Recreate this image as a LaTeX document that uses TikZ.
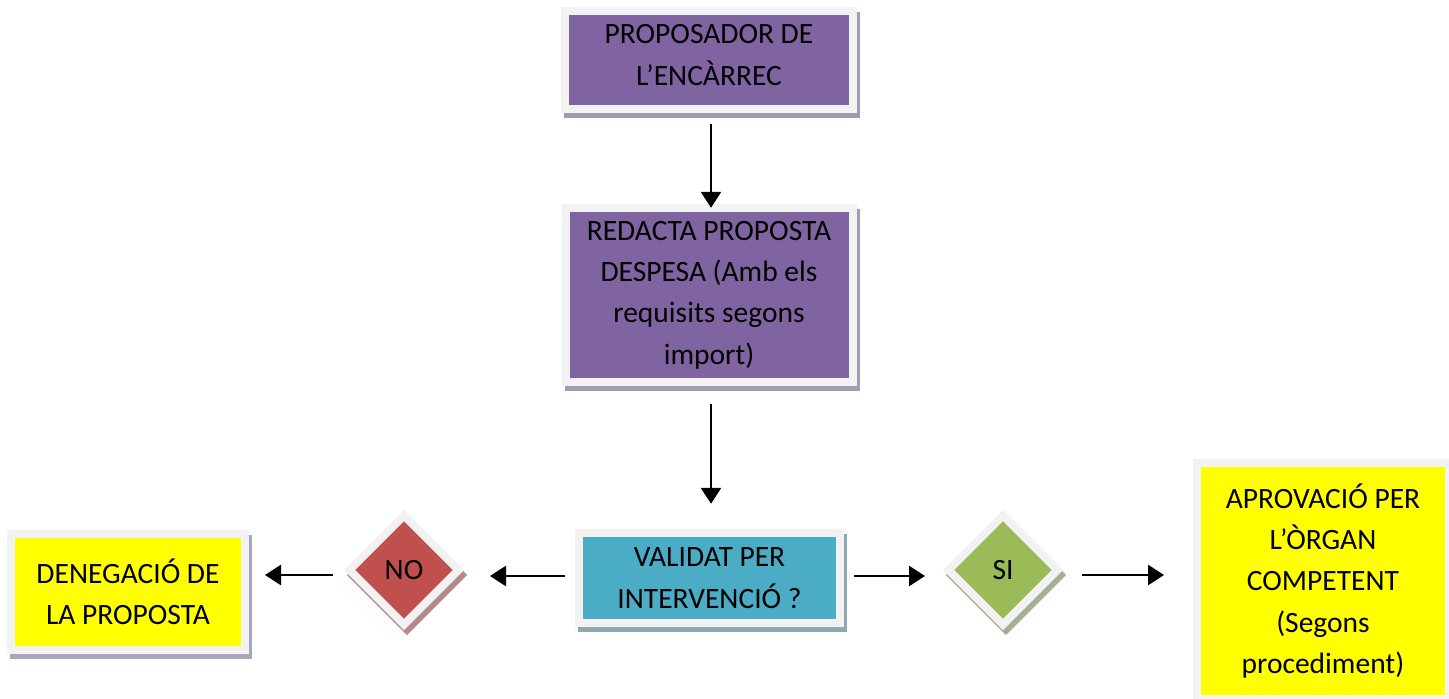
\documentclass[tikz,border=0pt]{standalone}
\usepackage{fontspec}
\setmainfont{Carlito}
\usetikzlibrary{arrows.meta,shapes.geometric}
\definecolor{bordc}{HTML}{F2F2F2}
\definecolor{purp}{HTML}{8064A2}
\definecolor{tealc}{HTML}{4BACC6}
\definecolor{redc}{HTML}{C0504D}
\definecolor{greenc}{HTML}{9BBB59}
\definecolor{yellc}{HTML}{FFFF00}
\definecolor{shpurp}{HTML}{A39BB0}
\definecolor{shteal}{HTML}{8EA9B3}
\definecolor{shyell}{HTML}{A8A6B8}
\definecolor{shred}{HTML}{B58A8A}
\definecolor{shgreen}{HTML}{A5AE95}
\tikzset{
  shadowed/.style={preaction={draw=#1, fill=#1, line width=8pt,
      transform canvas={xshift=3pt,yshift=-5pt}}},
  txt/.style={align=center, text=black, font=\fontsize{29.5}{41.3}\selectfont},
  box/.style={rectangle, draw=bordc, line width=8pt, inner sep=0pt, outer sep=0pt, txt},
  decision/.style={diamond, aspect=1, draw=bordc, line width=8pt, inner sep=0pt,
      outer sep=0pt, minimum width=109pt, minimum height=109pt, txt},
  arr/.style={line width=2.8pt, -{Triangle[width=20pt,length=16pt]}}
}
\begin{document}
\begin{tikzpicture}[x=1pt,y=-1pt]
\useasboundingbox (0,0) rectangle (1449,699);
\clip (0,0) rectangle (1449,699);
\node[box, shadowed=shpurp, fill=purp, minimum width=288pt, minimum height=98pt,
  label={[txt, yshift=5pt]center:PROPOSADOR DE\\L’ENCÀRREC}]
  (prop) at (709,60) {};
\node[box, shadowed=shpurp, fill=purp, minimum width=287pt, minimum height=174.5pt]
  (red) at (709,295) {REDACTA PROPOSTA\\DESPESA (Amb els\\requisits segons\\import)};
\node[box, shadowed=shteal, fill=tealc, minimum width=261pt, minimum height=89.5pt]
  (val) at (709.5,578) {VALIDAT PER\\INTERVENCIÓ ?};
\node[box, shadowed=shyell, fill=yellc, minimum width=234pt, minimum height=116pt]
  (den) at (128,591.5) {DENEGACIÓ DE\\LA PROPOSTA};
\node[box, shadowed=shyell, fill=yellc, minimum width=252pt, minimum height=236.5pt]
  (apr) at (1323,581) {APROVACIÓ PER\\L’ÒRGAN\\COMPETENT\\(Segons\\procediment)};
\node[decision, shadowed=shred, fill=redc] (no) at (404,570) {NO};
\node[decision, shadowed=shgreen, fill=greenc] (si) at (1003,570) {SI};

\coordinate (vl) at ([yshift=2pt]val.west);
\coordinate (vr) at ([yshift=2pt]val.east);
\coordinate (nl) at ([yshift=-5pt]no.west);
\coordinate (sr) at ([yshift=-5pt]si.east);

\draw[arr, shorten <=15pt] ([xshift=2pt]prop.south) -- ([xshift=2pt]red.north);
\draw[arr, shorten <=22pt, shorten >=29.5pt] ([xshift=2pt]red.south) -- ([xshift=1.5pt]val.north);
\draw[arr, shorten <=14pt, shorten >=31.5pt] (vl) -- (vl -| no.east);
\draw[arr, shorten <=16.5pt, shorten >=20pt] (nl) -- (nl -| den.east);
\draw[arr, shorten <=14pt, shorten >=23.5pt] (vr) -- (vr -| si.west);
\draw[arr, shorten <=24.5pt, shorten >=33pt] (sr) -- (sr -| apr.west);
\end{tikzpicture}
\end{document}
